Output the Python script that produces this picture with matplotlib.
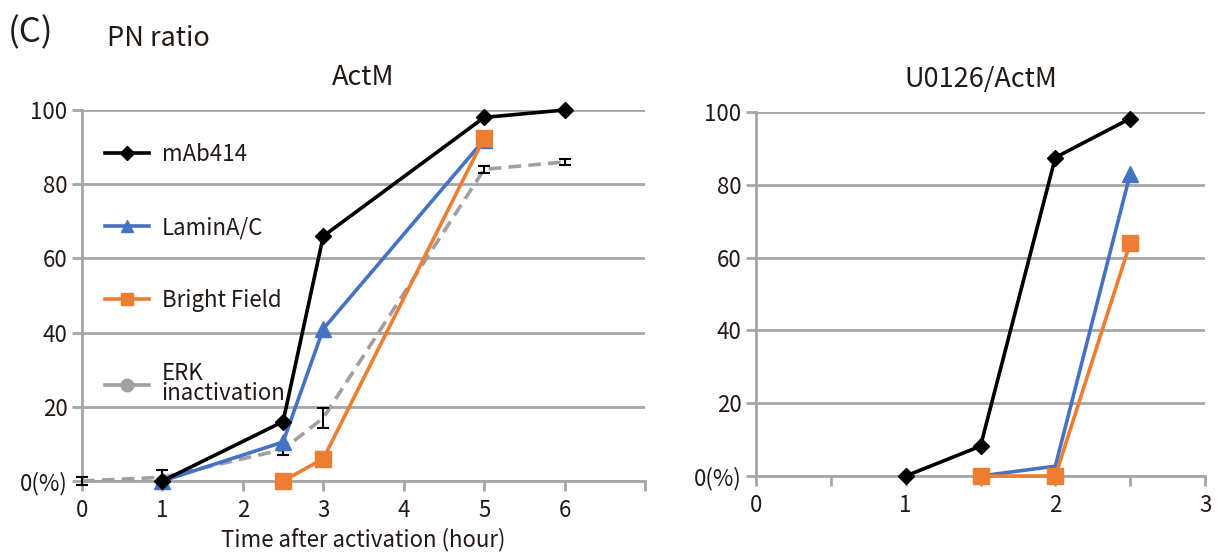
import matplotlib
matplotlib.use("Agg")
import matplotlib.pyplot as plt
from matplotlib.lines import Line2D

plt.rcParams['font.family'] = ['Noto Sans CJK JP', 'DejaVu Sans']

# ---- data: ActM ----
act_mab_x = [1, 2.5, 3, 5, 6]
act_mab_y = [0, 16, 66, 98, 100]
act_lam_x = [1, 2.5, 3, 5]
act_lam_y = [0, 10.5, 41, 92]
act_bf_x = [2.5, 3, 5]
act_bf_y = [0, 6, 92.5]
act_erk_x = [0, 1, 2.5, 3, 5, 6]
act_erk_y = [0, 1, 8.5, 17, 84, 86]
act_erk_err = [1.0, 2.0, 1.5, 2.8, 1.0, 0.7]

# ---- data: U0126/ActM ----
u_mab_x = [1, 1.5, 2, 2.5]
u_mab_y = [0, 8.2, 87.5, 98.2]
u_lam_x = [1.5, 2, 2.5]
u_lam_y = [0, 2.7, 83]
u_bf_x = [1.5, 2, 2.5]
u_bf_y = [0, 0, 64]

series_labels = ["mAb414", "LaminA/C", "Bright Field", "ERK\ninactivation"]
y_ticks = [0, 20, 40, 60, 80, 100]
y_ticklabels = ["0(%)", "20", "40", "60", "80", "100"]

BLACK = "#000000"
BLUE = "#4472C4"
ORANGE = "#ED7D31"
GRAY = "#A0A0A0"
GRID = "#A6A6A6"
TXT = '#231815'

fig = plt.figure(figsize=(12.2, 5.58), dpi=100)
ax1 = fig.add_axes([82/1220, 1-481/558, (645-82)/1220, (481-110)/558])
ax2 = fig.add_axes([756/1220, 1-476/558, (1205-756)/1220, (476-112)/558])

FS = 16

def style(ax, xmax, xticks):
    ax.set_ylim(0, 100)
    ax.set_xlim(0, xmax)
    ax.set_yticks(y_ticks)
    ax.set_yticklabels(y_ticklabels)
    ax.set_xticks(xticks)
    ax.yaxis.grid(True, color=GRID, linewidth=2)
    ax.set_axisbelow(True)
    for s in ['top', 'right']:
        ax.spines[s].set_visible(False)
    for s in ['left', 'bottom']:
        ax.spines[s].set_color(GRID)
        ax.spines[s].set_linewidth(2)
    ax.tick_params(axis='both', colors=GRID, labelcolor=TXT, labelsize=FS,
                   width=2, length=7, direction='out')
    ax.tick_params(axis='x', pad=6)

style(ax1, 7, [0, 1, 2, 3, 4, 5, 6, 7])
ax1.set_xticklabels(["0", "1", "2", "3", "4", "5", "6", ""])
style(ax2, 3, [0, 0.5, 1, 1.5, 2, 2.5, 3])
ax2.set_xticklabels(["0", "", "1", "", "2", "", "3"])

lw = 2.6
# left panel
ax1.plot(act_erk_x, act_erk_y, color=GRAY, lw=lw, ls=(0, (3.5, 2)), zorder=3, clip_on=False)
ax1.errorbar(act_erk_x, act_erk_y, yerr=act_erk_err, fmt='none', ecolor='black',
             elinewidth=1.5, capsize=4, capthick=1.5, zorder=4, clip_on=False)
ax1.plot(act_bf_x, act_bf_y, color=ORANGE, lw=lw, marker='s', ms=11, zorder=5, clip_on=False)
ax1.plot(act_lam_x, act_lam_y, color=BLUE, lw=lw, marker='^', ms=11, zorder=4.5, clip_on=False)
ax1.plot(act_mab_x, act_mab_y, color=BLACK, lw=lw, marker='D', ms=8.5, zorder=6, clip_on=False)

# right panel
ax2.plot(u_bf_x, u_bf_y, color=ORANGE, lw=lw, marker='s', ms=11, zorder=5, clip_on=False)
ax2.plot(u_lam_x, u_lam_y, color=BLUE, lw=lw, marker='^', ms=11, markevery=[2], zorder=4.5, clip_on=False)
ax2.plot(u_mab_x, u_mab_y, color=BLACK, lw=lw, marker='D', ms=8.5, zorder=6, clip_on=False)

handles = [
    Line2D([], [], color=BLACK, lw=lw, marker='D', ms=7),
    Line2D([], [], color=BLUE, lw=lw, marker='^', ms=9),
    Line2D([], [], color=ORANGE, lw=lw, marker='s', ms=9),
    Line2D([], [], color=GRAY, lw=lw, marker='o', ms=9),
]
leg = ax1.legend(handles, series_labels, loc='upper left', bbox_to_anchor=(0.025, 0.935),
                 frameon=False, fontsize=FS, labelspacing=2.25, handlelength=2.0,
                 handletextpad=0.55, borderaxespad=0)
for t in leg.get_texts():
    t.set_color(TXT)
    t.set_linespacing(0.85)

ax1.set_title("ActM", fontsize=19.5, pad=18, color=TXT)
ax2.set_title("U0126/ActM", fontsize=19.5, pad=18, color=TXT)
ax1.set_xlabel("Time after activation (hour)", fontsize=FS, color=TXT, labelpad=4)

fig.text(8/1220, 1-33/558, "(C)", fontsize=25, va='center', ha='left', color=TXT)
fig.text(107/1220, 1-38/558, "PN ratio", fontsize=19.5, va='center', ha='left', color=TXT)

fig.savefig("out.png", dpi=100)
